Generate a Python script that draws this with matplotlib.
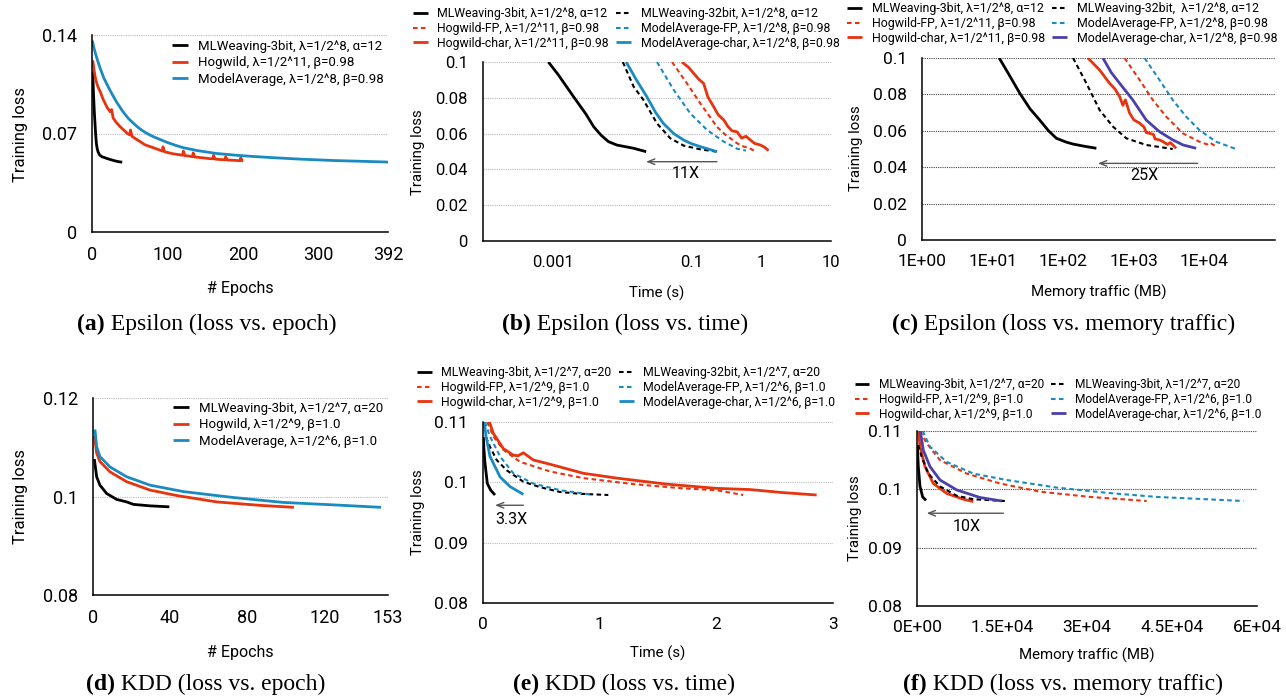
import matplotlib
matplotlib.use('Agg')
import matplotlib.pyplot as plt
from matplotlib.ticker import NullLocator

plt.rcParams['font.family'] = ['Roboto', 'DejaVu Sans']

W, H = 1286, 698
BLACK = '#000000'
RED = '#E8330F'
BLUE = '#1A8BC2'
PURPLE = '#4A40AA'

# ---------------- data ----------------
# (a) Epsilon, loss vs epoch
a_mlw_x = [0.5, 1, 2, 3, 4, 5, 6, 7, 8, 10, 13, 16, 20, 25, 30, 35, 40]
a_mlw_y = [0.114, 0.113, 0.098, 0.086, 0.077, 0.068, 0.062, 0.059, 0.057, 0.0548, 0.0535,
           0.053, 0.0522, 0.0514, 0.0506, 0.050, 0.0496]
a_hog_x = [1, 3, 5, 8, 11, 15, 20, 24, 26, 28, 32, 37, 42, 47, 50, 51, 53, 57, 63, 70, 78, 86,
           93, 94, 96, 100, 108, 115, 120, 121, 123, 128, 133, 134, 136, 145, 155, 160, 161, 163,
           170, 176, 177, 179, 186, 192, 196, 197, 199, 200]
a_hog_y = [0.122, 0.114, 0.108, 0.103, 0.0995, 0.094, 0.0885, 0.0855, 0.087, 0.081, 0.078, 0.075,
           0.0725, 0.070, 0.069, 0.0725, 0.068, 0.0665, 0.0645, 0.062, 0.0605, 0.059,
           0.0575, 0.0605, 0.057, 0.0565, 0.0555, 0.055, 0.0545, 0.0575, 0.0543, 0.054, 0.0535,
           0.0562, 0.0533, 0.0528, 0.0522, 0.052, 0.0545, 0.0518,
           0.0515, 0.0513, 0.0535, 0.0512, 0.051, 0.0508, 0.0507, 0.0528, 0.0506, 0.0508]
a_ma_x = [0.5, 2, 5, 10, 16, 24, 32, 41, 48, 55, 60, 65, 71, 77, 84, 90, 99, 110, 121, 140,
          165, 190, 210, 240, 275, 320, 360, 392]
a_ma_y = [0.136, 0.132, 0.126, 0.1175, 0.109, 0.1005, 0.0928, 0.0855, 0.0808, 0.0772, 0.0748,
          0.0727, 0.0706, 0.0688, 0.0671, 0.0658, 0.0638, 0.0617, 0.0599, 0.0578, 0.0558,
          0.0546, 0.0538, 0.0528, 0.0518, 0.0508, 0.0502, 0.0497]

# (b) Epsilon, loss vs time (s)
b_mlw3_x = [8.7e-4, 1.2e-3, 2.0e-3, 3.0e-3, 3.9e-3, 5.0e-3, 6.35e-3, 8.4e-3, 0.0146, 0.0221]
b_mlw3_y = [0.100, 0.093, 0.0806, 0.071, 0.0638, 0.059, 0.0555, 0.0536, 0.0518, 0.0499]
b_mlw32_x = [0.0102, 0.0146, 0.0202, 0.0316, 0.049, 0.0762, 0.1325, 0.23]
b_mlw32_y = [0.100, 0.0862, 0.0788, 0.0657, 0.0574, 0.0533, 0.0512, 0.0499]
b_hogfp_x = [0.052, 0.085, 0.1325, 0.23, 0.3, 0.358, 0.45, 0.56, 0.65, 0.78]
b_hogfp_y = [0.1, 0.0881, 0.0769, 0.0638, 0.0595, 0.0574, 0.0545, 0.0527, 0.0522, 0.0505]
b_hogch_x = [0.072, 0.09, 0.106, 0.125, 0.148, 0.17, 0.206, 0.24, 0.288, 0.33, 0.38, 0.447,
             0.52, 0.6, 0.695, 0.8, 0.97, 1.1, 1.27]
b_hogch_y = [0.1, 0.097, 0.0937, 0.0905, 0.088, 0.0805, 0.075, 0.0705, 0.0676, 0.064, 0.0615,
             0.061, 0.0575, 0.0585, 0.0564, 0.0545, 0.0536, 0.0525, 0.0505]
b_mafp_x = [0.0316, 0.055, 0.095, 0.166, 0.288, 0.45, 0.6]
b_mafp_y = [0.1, 0.0844, 0.0713, 0.062, 0.0555, 0.0515, 0.0505]
b_mach_x = [0.0114, 0.016, 0.0226, 0.03, 0.039, 0.055, 0.0762, 0.1, 0.1325, 0.18, 0.23]
b_mach_y = [0.1, 0.090, 0.0806, 0.072, 0.0657, 0.060, 0.0564, 0.0543, 0.0527, 0.0512, 0.0499]

# (c) Epsilon, loss vs memory traffic (MB)
c_mlw3_x = [12.4, 17, 24.3, 34, 46.5, 62, 80, 110, 138, 200, 295]
c_mlw3_y = [0.1, 0.091, 0.0806, 0.072, 0.0659, 0.060, 0.0559, 0.0538, 0.0527, 0.0515, 0.0504]
c_mlw32_x = [138, 213, 328, 507, 782, 1500, 3566]
c_mlw32_y = [0.1, 0.0861, 0.0714, 0.0623, 0.0559, 0.0522, 0.050]
c_hogch_x = [224, 328, 454, 540, 630, 700, 760, 872, 1000, 1210, 1400, 1500, 1670, 1900, 2000,
             2314, 2600, 3000, 3300, 3980]
c_hogch_y = [0.1, 0.0934, 0.0861, 0.083, 0.0788, 0.074, 0.077, 0.0697, 0.066, 0.0642, 0.062,
             0.059, 0.0586, 0.058, 0.0555, 0.055, 0.054, 0.0525, 0.0535, 0.0504]
c_mach_x = [365, 480, 630, 970, 1500, 2314, 3566, 5000, 7640]
c_mach_y = [0.1, 0.092, 0.0861, 0.0769, 0.0659, 0.0595, 0.055, 0.0522, 0.0504]
c_hogfp_x = [740, 1210, 1860, 2876, 4945, 8500, 11000, 12000, 14630]
c_hogfp_y = [0.1, 0.0879, 0.0769, 0.0678, 0.0586, 0.054, 0.0525, 0.0535, 0.0513]
c_mafp_x = [1420, 2314, 3566, 5500, 8500, 14630, 28000]
c_mafp_y = [0.1, 0.0879, 0.0769, 0.0678, 0.0604, 0.054, 0.050]

# (d) KDD, loss vs epoch
d_mlw_x = [0.7, 1.9, 3.6, 7.1, 12.3, 17.5, 20.9, 29.6, 39.6]
d_mlw_y = [0.1076, 0.104, 0.1023, 0.1006, 0.0994, 0.0989, 0.0984, 0.0981, 0.0979]
d_hog_x = [0.7, 1.9, 3.6, 8.8, 17.5, 29.6, 43.4, 64.2, 86.6, 104.2]
d_hog_y = [0.1123, 0.1088, 0.1071, 0.105, 0.103, 0.1013, 0.1002, 0.0989, 0.0982, 0.0978]
d_ma_x = [1, 1.9, 3.6, 8.8, 17.5, 29.6, 46.8, 72.7, 98.6, 124.6, 149.4]
d_ma_y = [0.1136, 0.1101, 0.1081, 0.106, 0.104, 0.1023, 0.101, 0.0998, 0.0988, 0.0983, 0.0978]

# (e) KDD, loss vs time (s)
e_mlw3_x = [0.003, 0.008, 0.017, 0.037, 0.066, 0.103]
e_mlw3_y = [0.1075, 0.1055, 0.1032, 0.0998, 0.0987, 0.0979]
e_mlw32_x = [0.026, 0.06, 0.117, 0.203, 0.346, 0.489, 0.66, 0.831, 1.074]
e_mlw32_y = [0.1075, 0.1059, 0.1037, 0.102, 0.1001, 0.0992, 0.0984, 0.0981, 0.0979]
e_hogch_x = [0.046, 0.089, 0.174, 0.26, 0.3, 0.346, 0.431, 0.574, 0.86, 1.146, 1.574, 2.0,
             2.29, 2.57, 2.86]
e_hogch_y = [0.1105, 0.1081, 0.1056, 0.1045, 0.1044, 0.1049, 0.1037, 0.103, 0.1015, 0.1007,
             0.0997, 0.099, 0.0988, 0.0983, 0.0979]
e_hogfp_x = [0.037, 0.089, 0.174, 0.317, 0.574, 0.86, 1.289, 1.717, 2.0, 2.23]
e_hogfp_y = [0.11, 0.1076, 0.1054, 0.1034, 0.1018, 0.1007, 0.0997, 0.099, 0.0987, 0.0979]
e_mach_x = [0.009, 0.026, 0.06, 0.146, 0.231, 0.346]
e_mach_y = [0.1103, 0.1076, 0.1043, 0.1009, 0.0993, 0.098]
e_mafp_x = [0.017, 0.06, 0.146, 0.26, 0.431, 0.66, 0.917]
e_mafp_y = [0.11, 0.1076, 0.1043, 0.1015, 0.0998, 0.0987, 0.098]

# (f) KDD, loss vs memory traffic (MB)
f_mlw3_x = [60, 230, 530, 1000, 1590]
f_mlw3_y = [0.1076, 0.1039, 0.1005, 0.0987, 0.0981]
f_mlw32_x = [200, 820, 2000, 4060, 7000, 9940, 15530]
f_mlw32_y = [0.1076, 0.1056, 0.1027, 0.1005, 0.0989, 0.0983, 0.098]
f_hogch_x = [230, 530, 1410, 2880, 5240, 8180, 9940]
f_hogch_y = [0.1103, 0.1073, 0.1039, 0.101, 0.0993, 0.0983, 0.0979]
f_mach_x = [530, 1120, 2290, 4060, 7000, 11120, 14940]
f_mach_y = [0.1103, 0.1067, 0.1039, 0.1016, 0.0999, 0.0986, 0.098]
f_hogfp_x = [530, 1710, 4060, 8770, 14650, 21700, 30530, 40530]
f_hogfp_y = [0.11, 0.1079, 0.105, 0.1027, 0.101, 0.0996, 0.0987, 0.098]
f_mafp_x = [1000, 2290, 5240, 9940, 15830, 24650, 33470, 42300, 51120, 57590]
f_mafp_y = [0.11, 0.1073, 0.1047, 0.1027, 0.1016, 0.1003, 0.0994, 0.0987, 0.0983, 0.098]

# legend labels
a_labels = ['MLWeaving-3bit, λ=1/2^8, α=12', 'Hogwild, λ=1/2^11, β=0.98',
            'ModelAverage, λ=1/2^8, β=0.98']
b_labels = ['MLWeaving-3bit, λ=1/2^8, α=12', 'Hogwild-FP, λ=1/2^11, β=0.98',
            'Hogwild-char, λ=1/2^11, β=0.98', 'MLWeaving-32bit, λ=1/2^8, α=12',
            'ModelAverage-FP, λ=1/2^8, β=0.98', 'ModelAverage-char, λ=1/2^8, β=0.98']
c_labels = ['MLWeaving-3bit, λ=1/2^8, α=12', 'Hogwild-FP, λ=1/2^11, β=0.98',
            'Hogwild-char, λ=1/2^11, β=0.98', 'MLWeaving-32bit,  λ=1/2^8, α=12',
            'ModelAverage-FP, λ=1/2^8, β=0.98', 'ModelAverage-char, λ=1/2^8, β=0.98']
d_labels = ['MLWeaving-3bit, λ=1/2^7, α=20', 'Hogwild, λ=1/2^9, β=1.0',
            'ModelAverage, λ=1/2^6, β=1.0']
e_labels = ['MLWeaving-3bit, λ=1/2^7, α=20', 'Hogwild-FP, λ=1/2^9, β=1.0',
            'Hogwild-char, λ=1/2^9, β=1.0', 'MLWeaving-32bit, λ=1/2^7, α=20',
            'ModelAverage-FP, λ=1/2^6, β=1.0', 'ModelAverage-char, λ=1/2^6, β=1.0']
f_labels = ['MLWeaving-3bit, λ=1/2^7, α=20', 'Hogwild-FP, λ=1/2^9, β=1.0',
            'Hogwild-char, λ=1/2^9, β=1.0', 'MLWeaving-3bit, λ=1/2^7, α=20',
            'ModelAverage-FP, λ=1/2^6, β=1.0', 'ModelAverage-char, λ=1/2^6, β=1.0']

fig = plt.figure(figsize=(W / 100, H / 100), dpi=100)


def box(l, r, t, b):
    return [l / W, 1 - b / H, (r - l) / W, (b - t) / H]


def style(ax, gridcol, tsize):
    for s in ['top', 'right']:
        ax.spines[s].set_visible(False)
    for s in ['left', 'bottom']:
        ax.spines[s].set_linewidth(1.1)
    ax.tick_params(length=0, labelsize=tsize)
    ax.tick_params(axis='x', pad=10)
    ax.tick_params(axis='y', pad=11)
    ax.grid(axis='y', linestyle=(0, (1, 1)), color=gridcol, lw=0.8)
    ax.grid(axis='x', visible=False)
    ax.set_axisbelow(True)


SOLID = dict(lw=2.0, solid_capstyle='butt')
DASH = dict(lw=1.5, linestyle=(0, (2.2, 1.6)))


def six(ax, d, ma_col):
    h1, = ax.plot(d[0][0], d[0][1], color=BLACK, **SOLID)
    h2, = ax.plot(d[1][0], d[1][1], color=RED, **DASH)
    h3, = ax.plot(d[2][0], d[2][1], color=RED, **SOLID)
    h4, = ax.plot(d[3][0], d[3][1], color=BLACK, **DASH)
    h5, = ax.plot(d[4][0], d[4][1], color=BLUE, **DASH)
    h6, = ax.plot(d[5][0], d[5][1], color=ma_col, **SOLID)
    return [h1, h2, h3, h4, h5, h6]


def top_legend(handles, labels, px, py, fs):
    fig.legend(handles, labels, loc='upper left', bbox_to_anchor=(px / W, 1 - py / H),
               ncol=2, frameon=False, fontsize=fs, borderpad=0, borderaxespad=0,
               handlelength=1.2, handletextpad=0.8, columnspacing=0.6, labelspacing=0.15)


def arrow(ax, x0, x1, y, tx, ty, label):
    ax.annotate('', xy=(x1, y), xytext=(x0, y),
                arrowprops=dict(arrowstyle='->,head_length=0.5,head_width=0.2',
                                color='#555555', lw=1.0, shrinkA=0, shrinkB=0))
    ax.text(tx, ty, label, fontsize=11.5, ha='center', va='center')


def caption(px, py, bold, rest):
    t = fig.text(px / W, 1 - py / H, bold, fontsize=17, family='Liberation Serif',
                 weight='bold', va='baseline')
    fig.add_artist(plt.Annotation(' ' + rest, xy=(1, 0), xycoords=t, va='bottom',
                                  fontsize=17, family='Liberation Serif'))


def ylab(px, py, s, fs):
    fig.text(px / W, 1 - py / H, s, rotation=90, ha='center', va='center', fontsize=fs)


def xlab(px, py, s, fs):
    fig.text(px / W, 1 - py / H, s, ha='center', va='center', fontsize=fs)


# ---------------- (a) ----------------
ax = fig.add_axes(box(92, 388, 35, 232))
style(ax, '#BBBBBB', 13)
ax.plot(a_mlw_x, a_mlw_y, color=BLACK, label=a_labels[0], **SOLID)
ax.plot(a_hog_x, a_hog_y, color=RED, label=a_labels[1], **SOLID)
ax.plot(a_ma_x, a_ma_y, color=BLUE, label=a_labels[2], **SOLID)
ax.set_xlim(0, 392)
ax.set_ylim(0, 0.14)
ax.set_xticks([0, 100, 200, 300, 392])
ax.set_yticks([0, 0.07, 0.14])
ax.set_yticklabels(['0', '0.07', '0.14'])
ax.legend(loc='upper left', bbox_to_anchor=((172 - 92) / 296, (232 - 40) / 197),
          frameon=False, fontsize=9.5, borderpad=0, borderaxespad=0, handlelength=1.2,
          handletextpad=0.8, labelspacing=0.25)
ylab(21, 134, 'Training loss', 12)
xlab(240, 289, '# Epochs', 11.5)
caption(77, 330, '(a)', 'Epsilon (loss vs. epoch)')

# ---------------- (b) ----------------
ax = fig.add_axes(box(483, 831, 62, 241))
style(ax, '#BBBBBB', 12)
hs = six(ax, [(b_mlw3_x, b_mlw3_y), (b_hogfp_x, b_hogfp_y), (b_hogch_x, b_hogch_y),
              (b_mlw32_x, b_mlw32_y), (b_mafp_x, b_mafp_y), (b_mach_x, b_mach_y)], BLUE)
ax.set_xscale('log')
ax.set_xlim(1e-4, 10)
ax.set_ylim(0, 0.1)
ax.set_xticks([1e-3, 0.1, 1, 10])
ax.set_xticklabels(['0.001', '0.1', '1', '10'])
ax.xaxis.set_minor_locator(NullLocator())
ax.set_yticks([0, 0.02, 0.04, 0.06, 0.08, 0.1])
ax.set_yticklabels(['0', '0.02', '0.04', '0.06', '0.08', '0.1'])
arrow(ax, 0.23, 0.022, 0.0443, 0.081, 0.0378, '11X')
top_legend(hs, b_labels, 413, 7, 8.8)
ylab(418, 152, 'Training loss', 10.8)
xlab(657, 293, 'Time (s)', 10.8)
caption(502, 330, '(b)', 'Epsilon (loss vs. time)')

# ---------------- (c) ----------------
ax = fig.add_axes(box(922, 1275, 58, 240))
style(ax, '#444444', 12.5)
hs = six(ax, [(c_mlw3_x, c_mlw3_y), (c_hogfp_x, c_hogfp_y), (c_hogch_x, c_hogch_y),
              (c_mlw32_x, c_mlw32_y), (c_mafp_x, c_mafp_y), (c_mach_x, c_mach_y)], PURPLE)
ax.set_xscale('log')
ax.set_xlim(1, 1e5)
ax.set_ylim(0, 0.1)
ax.set_xticks([1, 10, 100, 1e3, 1e4])
ax.set_xticklabels(['1E+00', '1E+01', '1E+02', '1E+03', '1E+04'])
ax.xaxis.set_minor_locator(NullLocator())
ax.set_yticks([0, 0.02, 0.04, 0.06, 0.08, 0.1])
ax.set_yticklabels(['0', '0.02', '0.04', '0.06', '0.08', '0.1'])
arrow(ax, 8040, 311, 0.0421, 1420, 0.0352, '25X')
top_legend(hs, c_labels, 847, 2, 8.9)
ylab(856, 148, 'Training loss', 10.8)
xlab(1099, 292, 'Memory traffic (MB)', 10.8)
caption(892, 330, '(c)', 'Epsilon (loss vs. memory traffic)')

# ---------------- (d) ----------------
ax = fig.add_axes(box(93, 388, 398, 595))
style(ax, '#BBBBBB', 13)
ax.plot(d_mlw_x, d_mlw_y, color=BLACK, label=d_labels[0], **SOLID)
ax.plot(d_hog_x, d_hog_y, color=RED, label=d_labels[1], **SOLID)
ax.plot(d_ma_x, d_ma_y, color=BLUE, label=d_labels[2], **SOLID)
ax.set_xlim(0, 153)
ax.set_ylim(0.08, 0.12)
ax.set_xticks([0, 40, 80, 120, 153])
ax.set_yticks([0.08, 0.1, 0.12])
ax.set_yticklabels(['0.08', '0.1', '0.12'])
ax.legend(loc='upper left', bbox_to_anchor=((173 - 93) / 295, (595 - 402) / 197),
          frameon=False, fontsize=9.5, borderpad=0, borderaxespad=0, handlelength=1.2,
          handletextpad=0.8, labelspacing=0.25)
ylab(21, 497, 'Training loss', 12)
xlab(240, 652, '# Epochs', 11.5)
caption(86, 690, '(d)', 'KDD (loss vs. epoch)')

# ---------------- (e) ----------------
ax = fig.add_axes(box(483, 833, 422, 603))
style(ax, '#BBBBBB', 12.5)
hs = six(ax, [(e_mlw3_x, e_mlw3_y), (e_hogfp_x, e_hogfp_y), (e_hogch_x, e_hogch_y),
              (e_mlw32_x, e_mlw32_y), (e_mafp_x, e_mafp_y), (e_mach_x, e_mach_y)], BLUE)
ax.set_xlim(0, 3)
ax.set_ylim(0.08, 0.11)
ax.set_xticks([0, 1, 2, 3])
ax.set_yticks([0.08, 0.09, 0.1, 0.11])
ax.set_yticklabels(['0.08', '0.09', '0.1', '0.11'])
arrow(ax, 0.346, 0.103, 0.0962, 0.246, 0.0939, '3.3X')
top_legend(hs, e_labels, 417, 366, 8.8)
ylab(418, 512, 'Training loss', 10.8)
xlab(658, 653, 'Time (s)', 10.8)
caption(513, 690, '(e)', 'KDD (loss vs. time)')

# ---------------- (f) ----------------
ax = fig.add_axes(box(917, 1257, 431, 606))
style(ax, '#444444', 12.5)
hs = six(ax, [(f_mlw3_x, f_mlw3_y), (f_hogfp_x, f_hogfp_y), (f_hogch_x, f_hogch_y),
              (f_mlw32_x, f_mlw32_y), (f_mafp_x, f_mafp_y), (f_mach_x, f_mach_y)], PURPLE)
ax.set_xlim(0, 6e4)
ax.set_ylim(0.08, 0.11)
ax.set_xticks([0, 1.5e4, 3e4, 4.5e4, 6e4])
ax.set_xticklabels(['0E+00', '1.5E+04', '3E+04', '4.5E+04', '6E+04'])
ax.set_yticks([0.08, 0.09, 0.1, 0.11])
ax.set_yticklabels(['0.08', '0.09', '0.1', '0.11'])
arrow(ax, 15240, 1710, 0.0959, 8770, 0.0937, '10X')
top_legend(hs, f_labels, 855, 378, 8.6)
ylab(855, 518, 'Training loss', 10.8)
xlab(1087, 655, 'Memory traffic (MB)', 10.8)
caption(903, 690, '(f)', 'KDD (loss vs. memory traffic)')

fig.savefig('out.png', dpi=100)
